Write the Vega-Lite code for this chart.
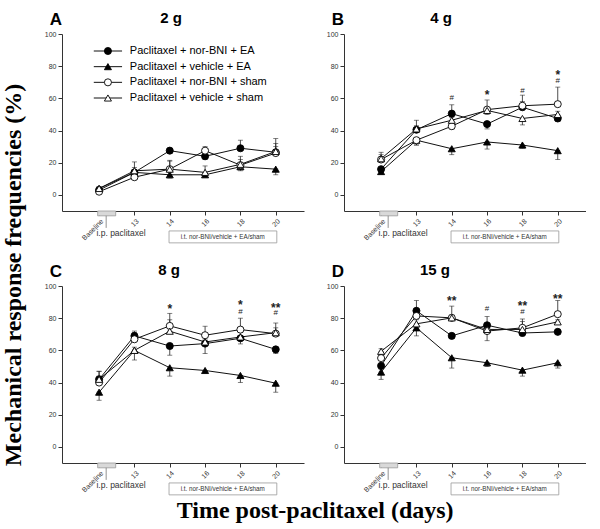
{
  "$schema": "https://vega.github.io/schema/vega-lite/v6.json",
  "padding": {"top": 10, "left": 2, "right": 0, "bottom": 0},
  "config": {
    "view": {"stroke": null},
    "axis": {"domainColor": "#333", "tickColor": "#333", "labelColor": "#333", "labelFont": "Liberation Sans", "labelFontSize": 7, "grid": false, "domainWidth": 1, "tickSize": 4, "tickWidth": 1, "labelPadding": 2, "labelOverlap": false},
    "text": {"font": "Liberation Sans"}
  },
  "datasets": {
    "pts": [
      {"panel": "A", "group": "Paclitaxel + nor-BNI + EA", "i": 0, "y": 3, "e": 4.5},
      {"panel": "A", "group": "Paclitaxel + nor-BNI + EA", "i": 1, "y": 14, "e": 17},
      {"panel": "A", "group": "Paclitaxel + nor-BNI + EA", "i": 2, "y": 27.5, "e": 29},
      {"panel": "A", "group": "Paclitaxel + nor-BNI + EA", "i": 3, "y": 24, "e": 22},
      {"panel": "A", "group": "Paclitaxel + nor-BNI + EA", "i": 4, "y": 29, "e": 34},
      {"panel": "A", "group": "Paclitaxel + nor-BNI + EA", "i": 5, "y": 26.5, "e": 30},
      {"panel": "A", "group": "Paclitaxel + vehicle + EA", "i": 0, "y": 4, "e": 5},
      {"panel": "A", "group": "Paclitaxel + vehicle + EA", "i": 1, "y": 14, "e": 12},
      {"panel": "A", "group": "Paclitaxel + vehicle + EA", "i": 2, "y": 12.5, "e": 10.5},
      {"panel": "A", "group": "Paclitaxel + vehicle + EA", "i": 3, "y": 12.5, "e": 11},
      {"panel": "A", "group": "Paclitaxel + vehicle + EA", "i": 4, "y": 17.5, "e": 15},
      {"panel": "A", "group": "Paclitaxel + vehicle + EA", "i": 5, "y": 16, "e": 12.5},
      {"panel": "A", "group": "Paclitaxel + nor-BNI + sham", "i": 0, "y": 2, "e": 3},
      {"panel": "A", "group": "Paclitaxel + nor-BNI + sham", "i": 1, "y": 11, "e": 12.5},
      {"panel": "A", "group": "Paclitaxel + nor-BNI + sham", "i": 2, "y": 16, "e": 21},
      {"panel": "A", "group": "Paclitaxel + nor-BNI + sham", "i": 3, "y": 27.5, "e": 30},
      {"panel": "A", "group": "Paclitaxel + nor-BNI + sham", "i": 4, "y": 18.5, "e": 24},
      {"panel": "A", "group": "Paclitaxel + nor-BNI + sham", "i": 5, "y": 26, "e": 32},
      {"panel": "A", "group": "Paclitaxel + vehicle + sham", "i": 0, "y": 4, "e": 5},
      {"panel": "A", "group": "Paclitaxel + vehicle + sham", "i": 1, "y": 15, "e": 20.5},
      {"panel": "A", "group": "Paclitaxel + vehicle + sham", "i": 2, "y": 16, "e": 21.5},
      {"panel": "A", "group": "Paclitaxel + vehicle + sham", "i": 3, "y": 14, "e": 18},
      {"panel": "A", "group": "Paclitaxel + vehicle + sham", "i": 4, "y": 19, "e": 22},
      {"panel": "A", "group": "Paclitaxel + vehicle + sham", "i": 5, "y": 27, "e": 35},

      {"panel": "B", "group": "Paclitaxel + nor-BNI + EA", "i": 0, "y": 16, "e": 14},
      {"panel": "B", "group": "Paclitaxel + nor-BNI + EA", "i": 1, "y": 40.5, "e": 43},
      {"panel": "B", "group": "Paclitaxel + nor-BNI + EA", "i": 2, "y": 50.5, "e": 56},
      {"panel": "B", "group": "Paclitaxel + nor-BNI + EA", "i": 3, "y": 44, "e": 41},
      {"panel": "B", "group": "Paclitaxel + nor-BNI + EA", "i": 4, "y": 54.5, "e": 58},
      {"panel": "B", "group": "Paclitaxel + nor-BNI + EA", "i": 5, "y": 47.5, "e": 46},
      {"panel": "B", "group": "Paclitaxel + vehicle + EA", "i": 0, "y": 14.5, "e": 13},
      {"panel": "B", "group": "Paclitaxel + vehicle + EA", "i": 1, "y": 34, "e": 31},
      {"panel": "B", "group": "Paclitaxel + vehicle + EA", "i": 2, "y": 28.7, "e": 25},
      {"panel": "B", "group": "Paclitaxel + vehicle + EA", "i": 3, "y": 32.9, "e": 28.5},
      {"panel": "B", "group": "Paclitaxel + vehicle + EA", "i": 4, "y": 31, "e": 29},
      {"panel": "B", "group": "Paclitaxel + vehicle + EA", "i": 5, "y": 27.5, "e": 22},
      {"panel": "B", "group": "Paclitaxel + nor-BNI + sham", "i": 0, "y": 22, "e": 25},
      {"panel": "B", "group": "Paclitaxel + nor-BNI + sham", "i": 1, "y": 34, "e": 31},
      {"panel": "B", "group": "Paclitaxel + nor-BNI + sham", "i": 2, "y": 42.7, "e": 41},
      {"panel": "B", "group": "Paclitaxel + nor-BNI + sham", "i": 3, "y": 53, "e": 59},
      {"panel": "B", "group": "Paclitaxel + nor-BNI + sham", "i": 4, "y": 55.4, "e": 62},
      {"panel": "B", "group": "Paclitaxel + nor-BNI + sham", "i": 5, "y": 56.4, "e": 67},
      {"panel": "B", "group": "Paclitaxel + vehicle + sham", "i": 0, "y": 22.5, "e": 26.5},
      {"panel": "B", "group": "Paclitaxel + vehicle + sham", "i": 1, "y": 41, "e": 46.4},
      {"panel": "B", "group": "Paclitaxel + vehicle + sham", "i": 2, "y": 46.4, "e": 48},
      {"panel": "B", "group": "Paclitaxel + vehicle + sham", "i": 3, "y": 52.5, "e": 50},
      {"panel": "B", "group": "Paclitaxel + vehicle + sham", "i": 4, "y": 47.5, "e": 43.5},
      {"panel": "B", "group": "Paclitaxel + vehicle + sham", "i": 5, "y": 50, "e": 52},

      {"panel": "C", "group": "Paclitaxel + nor-BNI + EA", "i": 0, "y": 42, "e": 44},
      {"panel": "C", "group": "Paclitaxel + nor-BNI + EA", "i": 1, "y": 69, "e": 72},
      {"panel": "C", "group": "Paclitaxel + nor-BNI + EA", "i": 2, "y": 62.7, "e": 57},
      {"panel": "C", "group": "Paclitaxel + nor-BNI + EA", "i": 3, "y": 64.2, "e": 58},
      {"panel": "C", "group": "Paclitaxel + nor-BNI + EA", "i": 4, "y": 67.5, "e": 64},
      {"panel": "C", "group": "Paclitaxel + nor-BNI + EA", "i": 5, "y": 60.6, "e": 58},
      {"panel": "C", "group": "Paclitaxel + vehicle + EA", "i": 0, "y": 34, "e": 29},
      {"panel": "C", "group": "Paclitaxel + vehicle + EA", "i": 1, "y": 60, "e": 54},
      {"panel": "C", "group": "Paclitaxel + vehicle + EA", "i": 2, "y": 49.2, "e": 44},
      {"panel": "C", "group": "Paclitaxel + vehicle + EA", "i": 3, "y": 47.5, "e": 46},
      {"panel": "C", "group": "Paclitaxel + vehicle + EA", "i": 4, "y": 44.4, "e": 40},
      {"panel": "C", "group": "Paclitaxel + vehicle + EA", "i": 5, "y": 39.6, "e": 34},
      {"panel": "C", "group": "Paclitaxel + nor-BNI + sham", "i": 0, "y": 40, "e": 47},
      {"panel": "C", "group": "Paclitaxel + nor-BNI + sham", "i": 1, "y": 66.9, "e": 71},
      {"panel": "C", "group": "Paclitaxel + nor-BNI + sham", "i": 2, "y": 75.2, "e": 83},
      {"panel": "C", "group": "Paclitaxel + nor-BNI + sham", "i": 3, "y": 69.4, "e": 75},
      {"panel": "C", "group": "Paclitaxel + nor-BNI + sham", "i": 4, "y": 72.9, "e": 80},
      {"panel": "C", "group": "Paclitaxel + nor-BNI + sham", "i": 5, "y": 70.4, "e": 77},
      {"panel": "C", "group": "Paclitaxel + vehicle + sham", "i": 0, "y": 42, "e": 47},
      {"panel": "C", "group": "Paclitaxel + vehicle + sham", "i": 1, "y": 60, "e": 62},
      {"panel": "C", "group": "Paclitaxel + vehicle + sham", "i": 2, "y": 71.9, "e": 79},
      {"panel": "C", "group": "Paclitaxel + vehicle + sham", "i": 3, "y": 65.2, "e": 67},
      {"panel": "C", "group": "Paclitaxel + vehicle + sham", "i": 4, "y": 68.3, "e": 74},
      {"panel": "C", "group": "Paclitaxel + vehicle + sham", "i": 5, "y": 71, "e": 74},

      {"panel": "D", "group": "Paclitaxel + nor-BNI + EA", "i": 0, "y": 50.4, "e": 48},
      {"panel": "D", "group": "Paclitaxel + nor-BNI + EA", "i": 1, "y": 84.6, "e": 91},
      {"panel": "D", "group": "Paclitaxel + nor-BNI + EA", "i": 2, "y": 69, "e": 69},
      {"panel": "D", "group": "Paclitaxel + nor-BNI + EA", "i": 3, "y": 75.6, "e": 81},
      {"panel": "D", "group": "Paclitaxel + nor-BNI + EA", "i": 4, "y": 70.8, "e": 69},
      {"panel": "D", "group": "Paclitaxel + nor-BNI + EA", "i": 5, "y": 71.5, "e": 71},
      {"panel": "D", "group": "Paclitaxel + vehicle + EA", "i": 0, "y": 46.5, "e": 42},
      {"panel": "D", "group": "Paclitaxel + vehicle + EA", "i": 1, "y": 74, "e": 69},
      {"panel": "D", "group": "Paclitaxel + vehicle + EA", "i": 2, "y": 55.4, "e": 49},
      {"panel": "D", "group": "Paclitaxel + vehicle + EA", "i": 3, "y": 52.3, "e": 50},
      {"panel": "D", "group": "Paclitaxel + vehicle + EA", "i": 4, "y": 47.7, "e": 44},
      {"panel": "D", "group": "Paclitaxel + vehicle + EA", "i": 5, "y": 52.3, "e": 49},
      {"panel": "D", "group": "Paclitaxel + nor-BNI + sham", "i": 0, "y": 55.2, "e": 57},
      {"panel": "D", "group": "Paclitaxel + nor-BNI + sham", "i": 1, "y": 81.4, "e": 83},
      {"panel": "D", "group": "Paclitaxel + nor-BNI + sham", "i": 2, "y": 80.2, "e": 87.5},
      {"panel": "D", "group": "Paclitaxel + nor-BNI + sham", "i": 3, "y": 72, "e": 75},
      {"panel": "D", "group": "Paclitaxel + nor-BNI + sham", "i": 4, "y": 74, "e": 79.5},
      {"panel": "D", "group": "Paclitaxel + nor-BNI + sham", "i": 5, "y": 82.5, "e": 91},
      {"panel": "D", "group": "Paclitaxel + vehicle + sham", "i": 0, "y": 59.4, "e": 61},
      {"panel": "D", "group": "Paclitaxel + vehicle + sham", "i": 1, "y": 76.5, "e": 79},
      {"panel": "D", "group": "Paclitaxel + vehicle + sham", "i": 2, "y": 80.2, "e": 82},
      {"panel": "D", "group": "Paclitaxel + vehicle + sham", "i": 3, "y": 73, "e": 66},
      {"panel": "D", "group": "Paclitaxel + vehicle + sham", "i": 4, "y": 73, "e": 78},
      {"panel": "D", "group": "Paclitaxel + vehicle + sham", "i": 5, "y": 77.7, "e": 79}
    ],
    "sig": [
      {"panel": "B", "i": 2, "y": 60.4, "s": "#"},
      {"panel": "B", "i": 3, "y": 63.7, "s": "*"},
      {"panel": "B", "i": 4, "y": 64.8, "s": "#"},
      {"panel": "B", "i": 5, "y": 76.6, "s": "*"},
      {"panel": "B", "i": 5, "y": 71, "s": "#"},
      {"panel": "C", "i": 2, "y": 87.5, "s": "*"},
      {"panel": "C", "i": 4, "y": 90.2, "s": "*"},
      {"panel": "C", "i": 4, "y": 84, "s": "#"},
      {"panel": "C", "i": 5, "y": 88.5, "s": "**"},
      {"panel": "C", "i": 5, "y": 83, "s": "#"},
      {"panel": "D", "i": 2, "y": 92.3, "s": "**"},
      {"panel": "D", "i": 3, "y": 85.4, "s": "#"},
      {"panel": "D", "i": 4, "y": 89.2, "s": "**"},
      {"panel": "D", "i": 4, "y": 84, "s": "#"},
      {"panel": "D", "i": 5, "y": 94, "s": "**"}
    ],
    "legend": [
      {"group": "Paclitaxel + nor-BNI + EA"},
      {"group": "Paclitaxel + vehicle + EA"},
      {"group": "Paclitaxel + nor-BNI + sham"},
      {"group": "Paclitaxel + vehicle + sham"}
    ]
  },
  "title": {"text": "Mechanical response frequencies (%)", "orient": "left", "anchor": "middle", "font": "Liberation Serif", "fontSize": 24, "fontWeight": "bold", "color": "black", "offset": 18, "dx": -8},
  "spacing": 18,
  "vconcat": [
    {
      "spacing": 22,
      "hconcat": [
        {
          "width": 242, "height": 177,
          "title": {"text": "2 g", "dx": -12, "fontSize": 15, "font": "Liberation Sans", "fontWeight": "bold", "offset": -15, "color": "black"},
          "resolve": {"scale": {"y": "independent"}},
          "layer": [
            {"layer": [
              {"data": {"name": "pts"}, "transform": [{"filter": "datum.panel === 'A'"}],
               "encoding": {
                 "x": {"field": "i", "type": "quantitative", "scale": {"domain": [-1.05, 5.8], "nice": false, "zero": false}, "axis": {"values": [0,1,2,3,4,5], "labelExpr": "['Baseline','13','14','16','18','20'][datum.value]", "labelAngle": -45, "labelAlign": "right", "labelBaseline": "top", "title": null}},
                 "y": {"field": "y", "type": "quantitative", "scale": {"domain": [-10, 100], "nice": false, "zero": false}, "axis": {"values": [0,20,40,60,80,100], "tickCount": 6, "labelOverlap": false, "title": null}}
               },
               "layer": [
                 {"mark": {"type": "line", "color": "#111", "strokeWidth": 1}, "encoding": {"detail": {"field": "group"}}},
                 {"mark": {"type": "errorbar", "color": "#222", "thickness": 0.8, "ticks": {"size": 5, "thickness": 0.8}}, "encoding": {"y2": {"field": "e"}}},
                 {"mark": {"type": "point", "filled": true, "size": 50, "stroke": "black", "strokeWidth": 0.9, "opacity": 1},
                  "encoding": {
                    "shape": {"field": "group", "type": "nominal", "scale": {"domain": ["Paclitaxel + nor-BNI + EA", "Paclitaxel + vehicle + EA", "Paclitaxel + nor-BNI + sham", "Paclitaxel + vehicle + sham"], "range": ["circle", "triangle-up", "circle", "triangle-up"]}, "legend": null},
                    "fill": {"field": "group", "type": "nominal", "scale": {"domain": ["Paclitaxel + nor-BNI + EA", "Paclitaxel + vehicle + EA", "Paclitaxel + nor-BNI + sham", "Paclitaxel + vehicle + sham"], "range": ["black", "black", "white", "white"]}, "legend": null}
                  }}
               ]},
              {"data": {"values": [{}]}, "mark": {"type": "rect", "fill": "#d9d9d9", "stroke": "#999", "strokeWidth": 0.8}, "encoding": {"x": {"datum": -0.04}, "x2": {"datum": 0.47}, "y": {"datum": -10}, "y2": {"datum": -13}}},
              {"data": {"values": [{}]}, "mark": {"type": "rule", "color": "#777", "strokeWidth": 0.8}, "encoding": {"x": {"datum": 0.2}, "y": {"datum": -13}, "y2": {"datum": -20.5}}},
              {"data": {"values": [{}]}, "mark": {"type": "text", "text": "i.p. paclitaxel", "fontSize": 8.5, "color": "#333", "baseline": "middle"}, "encoding": {"x": {"datum": 0.62}, "y": {"datum": -23.5}}},
              {"data": {"values": [{}]}, "mark": {"type": "rect", "fill": "white", "stroke": "#999", "strokeWidth": 0.8}, "encoding": {"x": {"datum": 1.98}, "x2": {"datum": 5.03}, "y": {"datum": -22.4}, "y2": {"datum": -29.8}}},
              {"data": {"values": [{}]}, "mark": {"type": "text", "text": "i.t. nor-BNI/vehicle + EA/sham", "fontSize": 6.3, "color": "#333", "baseline": "middle"}, "encoding": {"x": {"datum": 3.5}, "y": {"datum": -26.1}}},
              {"data": {"values": [{}]}, "mark": {"type": "text", "text": "A", "align": "right", "baseline": "alphabetic", "fontSize": 17, "fontWeight": "bold", "color": "black"}, "encoding": {"x": {"datum": -1.05}, "y": {"datum": 105.8}}}
            ]},
            {"data": {"name": "legend"},
             "encoding": {"y": {"field": "group", "type": "nominal", "scale": {"type": "point", "domain": ["Paclitaxel + nor-BNI + EA", "Paclitaxel + vehicle + EA", "Paclitaxel + nor-BNI + sham", "Paclitaxel + vehicle + sham"], "range": [17, 64], "padding": 0}, "axis": null}},
             "layer": [
               {"mark": {"type": "rule", "color": "#111", "strokeWidth": 1}, "encoding": {"x": {"datum": -0.15}, "x2": {"datum": 0.65}}},
               {"mark": {"type": "point", "filled": true, "size": 50, "stroke": "black", "strokeWidth": 0.9, "opacity": 1},
                "encoding": {
                  "x": {"datum": 0.25},
                  "shape": {"field": "group", "type": "nominal", "scale": {"domain": ["Paclitaxel + nor-BNI + EA", "Paclitaxel + vehicle + EA", "Paclitaxel + nor-BNI + sham", "Paclitaxel + vehicle + sham"], "range": ["circle", "triangle-up", "circle", "triangle-up"]}, "legend": null},
                  "fill": {"field": "group", "type": "nominal", "scale": {"domain": ["Paclitaxel + nor-BNI + EA", "Paclitaxel + vehicle + EA", "Paclitaxel + nor-BNI + sham", "Paclitaxel + vehicle + sham"], "range": ["black", "black", "white", "white"]}, "legend": null}
                }},
               {"mark": {"type": "text", "align": "left", "baseline": "middle", "fontSize": 11, "color": "black"}, "encoding": {"x": {"datum": 0.87}, "text": {"field": "group"}}}
             ]}
          ]
        },
        {
          "width": 242, "height": 177,
          "title": {"text": "4 g", "dx": -24, "fontSize": 15, "font": "Liberation Sans", "fontWeight": "bold", "offset": -15, "color": "black"},
          "layer": [
            {"data": {"name": "pts"}, "transform": [{"filter": "datum.panel === 'B'"}],
             "encoding": {
               "x": {"field": "i", "type": "quantitative", "scale": {"domain": [-1.05, 5.8], "nice": false, "zero": false}, "axis": {"values": [0,1,2,3,4,5], "labelExpr": "['Baseline','13','14','16','18','20'][datum.value]", "labelAngle": -45, "labelAlign": "right", "labelBaseline": "top", "title": null}},
               "y": {"field": "y", "type": "quantitative", "scale": {"domain": [-10, 100], "nice": false, "zero": false}, "axis": {"values": [0,20,40,60,80,100], "tickCount": 6, "labelOverlap": false, "title": null}}
             },
             "layer": [
               {"mark": {"type": "line", "color": "#111", "strokeWidth": 1}, "encoding": {"detail": {"field": "group"}}},
               {"mark": {"type": "errorbar", "color": "#222", "thickness": 0.8, "ticks": {"size": 5, "thickness": 0.8}}, "encoding": {"y2": {"field": "e"}}},
               {"mark": {"type": "point", "filled": true, "size": 50, "stroke": "black", "strokeWidth": 0.9, "opacity": 1},
                "encoding": {
                  "shape": {"field": "group", "type": "nominal", "scale": {"domain": ["Paclitaxel + nor-BNI + EA", "Paclitaxel + vehicle + EA", "Paclitaxel + nor-BNI + sham", "Paclitaxel + vehicle + sham"], "range": ["circle", "triangle-up", "circle", "triangle-up"]}, "legend": null},
                  "fill": {"field": "group", "type": "nominal", "scale": {"domain": ["Paclitaxel + nor-BNI + EA", "Paclitaxel + vehicle + EA", "Paclitaxel + nor-BNI + sham", "Paclitaxel + vehicle + sham"], "range": ["black", "black", "white", "white"]}, "legend": null}
                }}
             ]},
            {"data": {"name": "sig"}, "transform": [{"filter": "datum.panel === 'B' && datum.s === '#'"}], "mark": {"type": "text", "fontSize": 8, "color": "#222", "baseline": "middle"}, "encoding": {"x": {"field": "i", "type": "quantitative"}, "y": {"field": "y", "type": "quantitative"}, "text": {"field": "s"}}},
            {"data": {"name": "sig"}, "transform": [{"filter": "datum.panel === 'B' && datum.s !== '#'"}], "mark": {"type": "text", "fontSize": 12, "fontWeight": "bold", "color": "#222", "baseline": "middle", "dy": 3}, "encoding": {"x": {"field": "i", "type": "quantitative"}, "y": {"field": "y", "type": "quantitative"}, "text": {"field": "s"}}},
            {"data": {"values": [{}]}, "mark": {"type": "rect", "fill": "#d9d9d9", "stroke": "#999", "strokeWidth": 0.8}, "encoding": {"x": {"datum": -0.04}, "x2": {"datum": 0.47}, "y": {"datum": -10}, "y2": {"datum": -13}}},
            {"data": {"values": [{}]}, "mark": {"type": "rule", "color": "#777", "strokeWidth": 0.8}, "encoding": {"x": {"datum": 0.2}, "y": {"datum": -13}, "y2": {"datum": -20.5}}},
            {"data": {"values": [{}]}, "mark": {"type": "text", "text": "i.p. paclitaxel", "fontSize": 8.5, "color": "#333", "baseline": "middle"}, "encoding": {"x": {"datum": 0.62}, "y": {"datum": -23.5}}},
            {"data": {"values": [{}]}, "mark": {"type": "rect", "fill": "white", "stroke": "#999", "strokeWidth": 0.8}, "encoding": {"x": {"datum": 1.98}, "x2": {"datum": 5.03}, "y": {"datum": -22.4}, "y2": {"datum": -29.8}}},
            {"data": {"values": [{}]}, "mark": {"type": "text", "text": "i.t. nor-BNI/vehicle + EA/sham", "fontSize": 6.3, "color": "#333", "baseline": "middle"}, "encoding": {"x": {"datum": 3.5}, "y": {"datum": -26.1}}},
            {"data": {"values": [{}]}, "mark": {"type": "text", "text": "B", "align": "right", "baseline": "alphabetic", "fontSize": 17, "fontWeight": "bold", "color": "black"}, "encoding": {"x": {"datum": -1.05}, "y": {"datum": 105.8}}}
          ]
        }
      ]
    },
    {
      "spacing": 22,
      "title": {"text": "Time post-paclitaxel (days)", "orient": "bottom", "anchor": "middle", "font": "Liberation Serif", "fontSize": 24, "fontWeight": "bold", "color": "black", "offset": 4},
      "hconcat": [
        {
          "width": 242, "height": 177,
          "title": {"text": "8 g", "dx": -14, "fontSize": 15, "font": "Liberation Sans", "fontWeight": "bold", "offset": -15, "color": "black"},
          "layer": [
            {"data": {"name": "pts"}, "transform": [{"filter": "datum.panel === 'C'"}],
             "encoding": {
               "x": {"field": "i", "type": "quantitative", "scale": {"domain": [-1.05, 5.8], "nice": false, "zero": false}, "axis": {"values": [0,1,2,3,4,5], "labelExpr": "['Baseline','13','14','16','18','20'][datum.value]", "labelAngle": -45, "labelAlign": "right", "labelBaseline": "top", "title": null}},
               "y": {"field": "y", "type": "quantitative", "scale": {"domain": [-10, 100], "nice": false, "zero": false}, "axis": {"values": [0,20,40,60,80,100], "tickCount": 6, "labelOverlap": false, "title": null}}
             },
             "layer": [
               {"mark": {"type": "line", "color": "#111", "strokeWidth": 1}, "encoding": {"detail": {"field": "group"}}},
               {"mark": {"type": "errorbar", "color": "#222", "thickness": 0.8, "ticks": {"size": 5, "thickness": 0.8}}, "encoding": {"y2": {"field": "e"}}},
               {"mark": {"type": "point", "filled": true, "size": 50, "stroke": "black", "strokeWidth": 0.9, "opacity": 1},
                "encoding": {
                  "shape": {"field": "group", "type": "nominal", "scale": {"domain": ["Paclitaxel + nor-BNI + EA", "Paclitaxel + vehicle + EA", "Paclitaxel + nor-BNI + sham", "Paclitaxel + vehicle + sham"], "range": ["circle", "triangle-up", "circle", "triangle-up"]}, "legend": null},
                  "fill": {"field": "group", "type": "nominal", "scale": {"domain": ["Paclitaxel + nor-BNI + EA", "Paclitaxel + vehicle + EA", "Paclitaxel + nor-BNI + sham", "Paclitaxel + vehicle + sham"], "range": ["black", "black", "white", "white"]}, "legend": null}
                }}
             ]},
            {"data": {"name": "sig"}, "transform": [{"filter": "datum.panel === 'C' && datum.s === '#'"}], "mark": {"type": "text", "fontSize": 8, "color": "#222", "baseline": "middle"}, "encoding": {"x": {"field": "i", "type": "quantitative"}, "y": {"field": "y", "type": "quantitative"}, "text": {"field": "s"}}},
            {"data": {"name": "sig"}, "transform": [{"filter": "datum.panel === 'C' && datum.s !== '#'"}], "mark": {"type": "text", "fontSize": 12, "fontWeight": "bold", "color": "#222", "baseline": "middle", "dy": 3}, "encoding": {"x": {"field": "i", "type": "quantitative"}, "y": {"field": "y", "type": "quantitative"}, "text": {"field": "s"}}},
            {"data": {"values": [{}]}, "mark": {"type": "rect", "fill": "#d9d9d9", "stroke": "#999", "strokeWidth": 0.8}, "encoding": {"x": {"datum": -0.04}, "x2": {"datum": 0.47}, "y": {"datum": -10}, "y2": {"datum": -13}}},
            {"data": {"values": [{}]}, "mark": {"type": "rule", "color": "#777", "strokeWidth": 0.8}, "encoding": {"x": {"datum": 0.2}, "y": {"datum": -13}, "y2": {"datum": -20.5}}},
            {"data": {"values": [{}]}, "mark": {"type": "text", "text": "i.p. paclitaxel", "fontSize": 8.5, "color": "#333", "baseline": "middle"}, "encoding": {"x": {"datum": 0.62}, "y": {"datum": -23.5}}},
            {"data": {"values": [{}]}, "mark": {"type": "rect", "fill": "white", "stroke": "#999", "strokeWidth": 0.8}, "encoding": {"x": {"datum": 1.98}, "x2": {"datum": 5.03}, "y": {"datum": -22.4}, "y2": {"datum": -29.8}}},
            {"data": {"values": [{}]}, "mark": {"type": "text", "text": "i.t. nor-BNI/vehicle + EA/sham", "fontSize": 6.3, "color": "#333", "baseline": "middle"}, "encoding": {"x": {"datum": 3.5}, "y": {"datum": -26.1}}},
            {"data": {"values": [{}]}, "mark": {"type": "text", "text": "C", "align": "right", "baseline": "alphabetic", "fontSize": 17, "fontWeight": "bold", "color": "black"}, "encoding": {"x": {"datum": -1.05}, "y": {"datum": 105.8}}}
          ]
        },
        {
          "width": 242, "height": 177,
          "title": {"text": "15 g", "dx": -30, "fontSize": 15, "font": "Liberation Sans", "fontWeight": "bold", "offset": -15, "color": "black"},
          "layer": [
            {"data": {"name": "pts"}, "transform": [{"filter": "datum.panel === 'D'"}],
             "encoding": {
               "x": {"field": "i", "type": "quantitative", "scale": {"domain": [-1.05, 5.8], "nice": false, "zero": false}, "axis": {"values": [0,1,2,3,4,5], "labelExpr": "['Baseline','13','14','16','18','20'][datum.value]", "labelAngle": -45, "labelAlign": "right", "labelBaseline": "top", "title": null}},
               "y": {"field": "y", "type": "quantitative", "scale": {"domain": [-10, 100], "nice": false, "zero": false}, "axis": {"values": [0,20,40,60,80,100], "tickCount": 6, "labelOverlap": false, "title": null}}
             },
             "layer": [
               {"mark": {"type": "line", "color": "#111", "strokeWidth": 1}, "encoding": {"detail": {"field": "group"}}},
               {"mark": {"type": "errorbar", "color": "#222", "thickness": 0.8, "ticks": {"size": 5, "thickness": 0.8}}, "encoding": {"y2": {"field": "e"}}},
               {"mark": {"type": "point", "filled": true, "size": 50, "stroke": "black", "strokeWidth": 0.9, "opacity": 1},
                "encoding": {
                  "shape": {"field": "group", "type": "nominal", "scale": {"domain": ["Paclitaxel + nor-BNI + EA", "Paclitaxel + vehicle + EA", "Paclitaxel + nor-BNI + sham", "Paclitaxel + vehicle + sham"], "range": ["circle", "triangle-up", "circle", "triangle-up"]}, "legend": null},
                  "fill": {"field": "group", "type": "nominal", "scale": {"domain": ["Paclitaxel + nor-BNI + EA", "Paclitaxel + vehicle + EA", "Paclitaxel + nor-BNI + sham", "Paclitaxel + vehicle + sham"], "range": ["black", "black", "white", "white"]}, "legend": null}
                }}
             ]},
            {"data": {"name": "sig"}, "transform": [{"filter": "datum.panel === 'D' && datum.s === '#'"}], "mark": {"type": "text", "fontSize": 8, "color": "#222", "baseline": "middle"}, "encoding": {"x": {"field": "i", "type": "quantitative"}, "y": {"field": "y", "type": "quantitative"}, "text": {"field": "s"}}},
            {"data": {"name": "sig"}, "transform": [{"filter": "datum.panel === 'D' && datum.s !== '#'"}], "mark": {"type": "text", "fontSize": 12, "fontWeight": "bold", "color": "#222", "baseline": "middle", "dy": 3}, "encoding": {"x": {"field": "i", "type": "quantitative"}, "y": {"field": "y", "type": "quantitative"}, "text": {"field": "s"}}},
            {"data": {"values": [{}]}, "mark": {"type": "rect", "fill": "#d9d9d9", "stroke": "#999", "strokeWidth": 0.8}, "encoding": {"x": {"datum": -0.04}, "x2": {"datum": 0.47}, "y": {"datum": -10}, "y2": {"datum": -13}}},
            {"data": {"values": [{}]}, "mark": {"type": "rule", "color": "#777", "strokeWidth": 0.8}, "encoding": {"x": {"datum": 0.2}, "y": {"datum": -13}, "y2": {"datum": -20.5}}},
            {"data": {"values": [{}]}, "mark": {"type": "text", "text": "i.p. paclitaxel", "fontSize": 8.5, "color": "#333", "baseline": "middle"}, "encoding": {"x": {"datum": 0.62}, "y": {"datum": -23.5}}},
            {"data": {"values": [{}]}, "mark": {"type": "rect", "fill": "white", "stroke": "#999", "strokeWidth": 0.8}, "encoding": {"x": {"datum": 1.98}, "x2": {"datum": 5.03}, "y": {"datum": -22.4}, "y2": {"datum": -29.8}}},
            {"data": {"values": [{}]}, "mark": {"type": "text", "text": "i.t. nor-BNI/vehicle + EA/sham", "fontSize": 6.3, "color": "#333", "baseline": "middle"}, "encoding": {"x": {"datum": 3.5}, "y": {"datum": -26.1}}},
            {"data": {"values": [{}]}, "mark": {"type": "text", "text": "D", "align": "right", "baseline": "alphabetic", "fontSize": 17, "fontWeight": "bold", "color": "black"}, "encoding": {"x": {"datum": -1.05}, "y": {"datum": 105.8}}}
          ]
        }
      ]
    }
  ]
}
